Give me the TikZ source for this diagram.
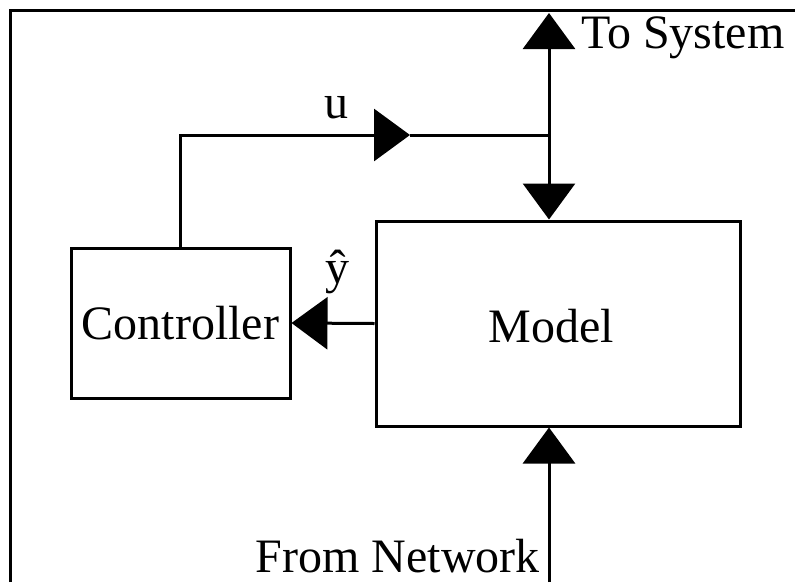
\documentclass[tikz,border=0pt]{standalone}
\usepackage{fontspec}
\setmainfont{Liberation Serif}
\usetikzlibrary{arrows.meta}
\tikzset{
  blk/.style={draw, line width=3pt, inner sep=0pt, font=\fontsize{48}{52}\selectfont},
  lbl/.style={inner sep=0pt, font=\fontsize{48}{52}\selectfont},
  wire/.style={line width=3pt},
  tri/.style={wire, -{Triangle[length=36pt, width=52pt]}},
}
\begin{document}
\begin{tikzpicture}[x=1pt, y=-1pt]
\useasboundingbox (0,0) rectangle (795,582);
% frame
\coordinate (fbl) at (10,582);
\coordinate (ftr) at (795,10);
\draw[wire] (fbl) |- (ftr);
% blocks
\node[blk, minimum width=219pt, minimum height=150pt] (ctrl) at (180.5,323) {Controller};
\node[blk, minimum width=364pt, minimum height=205pt] (model) at (558,323.5) {};
\node[lbl] (modeltxt) at (551,326) {Model};
% coordinates
\coordinate (junc) at (549,135);
\coordinate (uarr) at (410,135);
\coordinate (tosys) at (549,13);
\coordinate (fromnet) at (549,582);
% connectors
\draw[tri] (ctrl.north) |- (uarr);
\draw[wire] (uarr) -- (junc);
\draw[tri] (junc) -- (tosys);
\draw[tri] (junc) -- (model.north -| junc);
\draw[tri] (model.west) -- (ctrl.east);
\draw[tri] (fromnet) -- (model.south -| fromnet);
% labels
\node[lbl, anchor=base] (ulbl) at (336,118) {u};
\node[lbl, anchor=base] (ylbl) at (337,283) {ŷ};
\node[lbl, anchor=base west] (tosyslbl) at (581,48) {To System};
\node[lbl, anchor=base east] (fromnetlbl) at (540,572) {From Network};
\end{tikzpicture}
\end{document}
